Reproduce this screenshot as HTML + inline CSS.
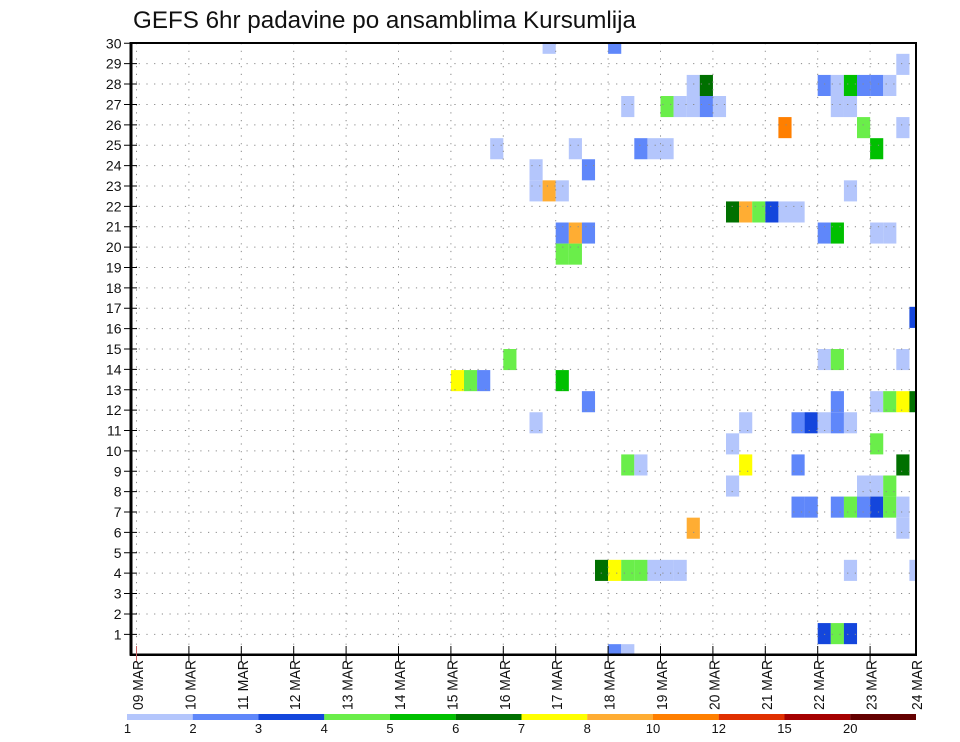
<!DOCTYPE html>
<html><head><meta charset="utf-8"><style>
html,body{margin:0;padding:0;background:#fff;}
svg{display:block;}
text{font-family:"Liberation Sans",sans-serif;fill:#111;}
</style></head><body>
<svg width="960" height="742" viewBox="0 0 960 742" xmlns="http://www.w3.org/2000/svg">
<defs><clipPath id="pc"><rect x="131" y="43" width="785" height="611.7"/></clipPath></defs>
<rect x="0" y="0" width="960" height="742" fill="#fff"/>
<text x="133" y="28" font-size="24" textLength="503" lengthAdjust="spacingAndGlyphs">GEFS 6hr padavine po ansamblima Kursumlija</text>

<g clip-path="url(#pc)">
<!-- i=29 -->
<rect x="542.6" y="32.75" width="13.15" height="21.08" fill="#b4c6fc"/>
<rect x="608.1" y="32.75" width="13.15" height="21.08" fill="#5f87fa"/>
<!-- i=28 -->
<rect x="896.3" y="53.83" width="13.15" height="21.08" fill="#b4c6fc"/>
<!-- i=27 -->
<rect x="686.7" y="74.92" width="13.15" height="21.08" fill="#b4c6fc"/>
<rect x="699.8" y="74.92" width="13.15" height="21.08" fill="#007000"/>
<rect x="817.7" y="74.92" width="13.15" height="21.08" fill="#5f87fa"/>
<rect x="830.8" y="74.92" width="13.15" height="21.08" fill="#b4c6fc"/>
<rect x="843.9" y="74.92" width="13.15" height="21.08" fill="#00c000"/>
<rect x="857.0" y="74.92" width="13.15" height="21.08" fill="#5f87fa"/>
<rect x="870.1" y="74.92" width="13.15" height="21.08" fill="#5f87fa"/>
<rect x="883.2" y="74.92" width="13.15" height="21.08" fill="#b4c6fc"/>
<!-- i=26 -->
<rect x="621.2" y="96.0" width="13.15" height="21.08" fill="#b4c6fc"/>
<rect x="660.5" y="96.0" width="13.15" height="21.08" fill="#6aee4a"/>
<rect x="673.6" y="96.0" width="13.15" height="21.08" fill="#b4c6fc"/>
<rect x="686.7" y="96.0" width="13.15" height="21.08" fill="#b4c6fc"/>
<rect x="699.8" y="96.0" width="13.15" height="21.08" fill="#5f87fa"/>
<rect x="712.9" y="96.0" width="13.15" height="21.08" fill="#b4c6fc"/>
<rect x="830.8" y="96.0" width="13.15" height="21.08" fill="#b4c6fc"/>
<rect x="843.9" y="96.0" width="13.15" height="21.08" fill="#b4c6fc"/>
<!-- i=25 -->
<rect x="778.4" y="117.08" width="13.15" height="21.08" fill="#ff7f00"/>
<rect x="857.0" y="117.08" width="13.15" height="21.08" fill="#6aee4a"/>
<rect x="896.3" y="117.08" width="13.15" height="21.08" fill="#b4c6fc"/>
<!-- i=24 -->
<rect x="490.2" y="138.17" width="13.15" height="21.08" fill="#b4c6fc"/>
<rect x="568.8" y="138.17" width="13.15" height="21.08" fill="#b4c6fc"/>
<rect x="634.3" y="138.17" width="13.15" height="21.08" fill="#5f87fa"/>
<rect x="647.4" y="138.17" width="13.15" height="21.08" fill="#b4c6fc"/>
<rect x="660.5" y="138.17" width="13.15" height="21.08" fill="#b4c6fc"/>
<rect x="870.1" y="138.17" width="13.15" height="21.08" fill="#00c000"/>
<!-- i=23 -->
<rect x="529.5" y="159.25" width="13.15" height="21.08" fill="#b4c6fc"/>
<rect x="581.9" y="159.25" width="13.15" height="21.08" fill="#5f87fa"/>
<!-- i=22 -->
<rect x="529.5" y="180.33" width="13.15" height="21.08" fill="#b4c6fc"/>
<rect x="542.6" y="180.33" width="13.15" height="21.08" fill="#ffad33"/>
<rect x="555.7" y="180.33" width="13.15" height="21.08" fill="#b4c6fc"/>
<rect x="843.9" y="180.33" width="13.15" height="21.08" fill="#b4c6fc"/>
<!-- i=21 -->
<rect x="726.0" y="201.42" width="13.15" height="21.08" fill="#007000"/>
<rect x="739.1" y="201.42" width="13.15" height="21.08" fill="#ffad33"/>
<rect x="752.2" y="201.42" width="13.15" height="21.08" fill="#6aee4a"/>
<rect x="765.3" y="201.42" width="13.15" height="21.08" fill="#1446dc"/>
<rect x="778.4" y="201.42" width="13.15" height="21.08" fill="#b4c6fc"/>
<rect x="791.5" y="201.42" width="13.15" height="21.08" fill="#b4c6fc"/>
<!-- i=20 -->
<rect x="555.7" y="222.5" width="13.15" height="21.08" fill="#5f87fa"/>
<rect x="568.8" y="222.5" width="13.15" height="21.08" fill="#ffad33"/>
<rect x="581.9" y="222.5" width="13.15" height="21.08" fill="#5f87fa"/>
<rect x="817.7" y="222.5" width="13.15" height="21.08" fill="#5f87fa"/>
<rect x="830.8" y="222.5" width="13.15" height="21.08" fill="#00c000"/>
<rect x="870.1" y="222.5" width="13.15" height="21.08" fill="#b4c6fc"/>
<rect x="883.2" y="222.5" width="13.15" height="21.08" fill="#b4c6fc"/>
<!-- i=19 -->
<rect x="555.7" y="243.58" width="13.15" height="21.08" fill="#6aee4a"/>
<rect x="568.8" y="243.58" width="13.15" height="21.08" fill="#6aee4a"/>
<!-- i=16 -->
<rect x="909.4" y="306.83" width="13.15" height="21.08" fill="#1446dc"/>
<!-- i=14 -->
<rect x="503.3" y="349.0" width="13.15" height="21.08" fill="#6aee4a"/>
<rect x="817.7" y="349.0" width="13.15" height="21.08" fill="#b4c6fc"/>
<rect x="830.8" y="349.0" width="13.15" height="21.08" fill="#6aee4a"/>
<rect x="896.3" y="349.0" width="13.15" height="21.08" fill="#b4c6fc"/>
<!-- i=13 -->
<rect x="450.9" y="370.08" width="13.15" height="21.08" fill="#ffff00"/>
<rect x="464.0" y="370.08" width="13.15" height="21.08" fill="#6aee4a"/>
<rect x="477.1" y="370.08" width="13.15" height="21.08" fill="#5f87fa"/>
<rect x="555.7" y="370.08" width="13.15" height="21.08" fill="#00c000"/>
<!-- i=12 -->
<rect x="581.9" y="391.16" width="13.15" height="21.08" fill="#5f87fa"/>
<rect x="830.8" y="391.16" width="13.15" height="21.08" fill="#5f87fa"/>
<rect x="870.1" y="391.16" width="13.15" height="21.08" fill="#b4c6fc"/>
<rect x="883.2" y="391.16" width="13.15" height="21.08" fill="#6aee4a"/>
<rect x="896.3" y="391.16" width="13.15" height="21.08" fill="#ffff00"/>
<rect x="909.4" y="391.16" width="13.15" height="21.08" fill="#007000"/>
<!-- i=11 -->
<rect x="529.5" y="412.25" width="13.15" height="21.08" fill="#b4c6fc"/>
<rect x="739.1" y="412.25" width="13.15" height="21.08" fill="#b4c6fc"/>
<rect x="791.5" y="412.25" width="13.15" height="21.08" fill="#5f87fa"/>
<rect x="804.6" y="412.25" width="13.15" height="21.08" fill="#1446dc"/>
<rect x="817.7" y="412.25" width="13.15" height="21.08" fill="#b4c6fc"/>
<rect x="830.8" y="412.25" width="13.15" height="21.08" fill="#5f87fa"/>
<rect x="843.9" y="412.25" width="13.15" height="21.08" fill="#b4c6fc"/>
<!-- i=10 -->
<rect x="726.0" y="433.33" width="13.15" height="21.08" fill="#b4c6fc"/>
<rect x="870.1" y="433.33" width="13.15" height="21.08" fill="#6aee4a"/>
<!-- i=9 -->
<rect x="621.2" y="454.41" width="13.15" height="21.08" fill="#6aee4a"/>
<rect x="634.3" y="454.41" width="13.15" height="21.08" fill="#b4c6fc"/>
<rect x="739.1" y="454.41" width="13.15" height="21.08" fill="#ffff00"/>
<rect x="791.5" y="454.41" width="13.15" height="21.08" fill="#5f87fa"/>
<rect x="896.3" y="454.41" width="13.15" height="21.08" fill="#007000"/>
<!-- i=8 -->
<rect x="726.0" y="475.5" width="13.15" height="21.08" fill="#b4c6fc"/>
<rect x="857.0" y="475.5" width="13.15" height="21.08" fill="#b4c6fc"/>
<rect x="870.1" y="475.5" width="13.15" height="21.08" fill="#b4c6fc"/>
<rect x="883.2" y="475.5" width="13.15" height="21.08" fill="#6aee4a"/>
<!-- i=7 -->
<rect x="791.5" y="496.58" width="13.15" height="21.08" fill="#5f87fa"/>
<rect x="804.6" y="496.58" width="13.15" height="21.08" fill="#5f87fa"/>
<rect x="830.8" y="496.58" width="13.15" height="21.08" fill="#5f87fa"/>
<rect x="843.9" y="496.58" width="13.15" height="21.08" fill="#6aee4a"/>
<rect x="857.0" y="496.58" width="13.15" height="21.08" fill="#5f87fa"/>
<rect x="870.1" y="496.58" width="13.15" height="21.08" fill="#1446dc"/>
<rect x="883.2" y="496.58" width="13.15" height="21.08" fill="#6aee4a"/>
<rect x="896.3" y="496.58" width="13.15" height="21.08" fill="#b4c6fc"/>
<!-- i=6 -->
<rect x="686.7" y="517.66" width="13.15" height="21.08" fill="#ffad33"/>
<rect x="896.3" y="517.66" width="13.15" height="21.08" fill="#b4c6fc"/>
<!-- i=4 -->
<rect x="595.0" y="559.83" width="13.15" height="21.08" fill="#007000"/>
<rect x="608.1" y="559.83" width="13.15" height="21.08" fill="#ffff00"/>
<rect x="621.2" y="559.83" width="13.15" height="21.08" fill="#6aee4a"/>
<rect x="634.3" y="559.83" width="13.15" height="21.08" fill="#6aee4a"/>
<rect x="647.4" y="559.83" width="13.15" height="21.08" fill="#b4c6fc"/>
<rect x="660.5" y="559.83" width="13.15" height="21.08" fill="#b4c6fc"/>
<rect x="673.6" y="559.83" width="13.15" height="21.08" fill="#b4c6fc"/>
<rect x="843.9" y="559.83" width="13.15" height="21.08" fill="#b4c6fc"/>
<rect x="909.4" y="559.83" width="13.15" height="21.08" fill="#b4c6fc"/>
<!-- i=1 -->
<rect x="817.7" y="623.08" width="13.15" height="21.08" fill="#1446dc"/>
<rect x="830.8" y="623.08" width="13.15" height="21.08" fill="#6aee4a"/>
<rect x="843.9" y="623.08" width="13.15" height="21.08" fill="#1446dc"/>
<!-- i=0 -->
<rect x="608.1" y="644.16" width="13.15" height="21.08" fill="#5f87fa"/>
<rect x="621.2" y="644.16" width="13.15" height="21.08" fill="#b4c6fc"/>
</g>

<!-- grid -->
<g stroke="#8a8a8a" stroke-width="1" stroke-dasharray="1.2 6.5" fill="none">
<path d="M131 634.32H916M131 613.94H916M131 593.56H916M131 573.18H916M131 552.8H916M131 532.42H916M131 512.04H916M131 491.66H916M131 471.28H916M131 450.9H916M131 430.52H916M131 410.14H916M131 389.76H916M131 369.38H916M131 349H916M131 328.62H916M131 308.24H916M131 287.86H916M131 267.48H916M131 247.1H916M131 226.72H916M131 206.34H916M131 185.96H916M131 165.58H916M131 145.2H916M131 124.82H916M131 104.44H916M131 84.06H916M131 63.68H916"/>
<path d="M136.5 43V654M188.9 43V654M241.3 43V654M293.7 43V654M346.1 43V654M398.5 43V654M450.9 43V654M503.3 43V654M555.7 43V654M608.1 43V654M660.5 43V654M712.9 43V654M765.3 43V654M817.7 43V654M870.1 43V654"/>
</g>

<!-- frame -->
<rect x="131" y="43" width="785" height="611.7" fill="none" stroke="#000" stroke-width="2"/>
<line x1="131" y1="42" x2="131" y2="655.7" stroke="#000" stroke-width="3"/>
<line x1="130" y1="654.7" x2="917" y2="654.7" stroke="#000" stroke-width="2.5"/>

<!-- y ticks -->
<g stroke="#000" stroke-width="1">
<path d="M124 634.32H137M124 613.94H137M124 593.56H137M124 573.18H137M124 552.8H137M124 532.42H137M124 512.04H137M124 491.66H137M124 471.28H137M124 450.9H137M124 430.52H137M124 410.14H137M124 389.76H137M124 369.38H137M124 349H137M124 328.62H137M124 308.24H137M124 287.86H137M124 267.48H137M124 247.1H137M124 226.72H137M124 206.34H137M124 185.96H137M124 165.58H137M124 145.2H137M124 124.82H137M124 104.44H137M124 84.06H137M124 63.68H137M124 43.3H137"/>
</g>
<g font-size="14" text-anchor="end">
<text x="121.5" y="639.3">1</text>
<text x="121.5" y="618.9">2</text>
<text x="121.5" y="598.6">3</text>
<text x="121.5" y="578.2">4</text>
<text x="121.5" y="557.8">5</text>
<text x="121.5" y="537.4">6</text>
<text x="121.5" y="517.0">7</text>
<text x="121.5" y="496.7">8</text>
<text x="121.5" y="476.3">9</text>
<text x="121.5" y="455.9">10</text>
<text x="121.5" y="435.5">11</text>
<text x="121.5" y="415.1">12</text>
<text x="121.5" y="394.8">13</text>
<text x="121.5" y="374.4">14</text>
<text x="121.5" y="354.0">15</text>
<text x="121.5" y="333.6">16</text>
<text x="121.5" y="313.2">17</text>
<text x="121.5" y="292.9">18</text>
<text x="121.5" y="272.5">19</text>
<text x="121.5" y="252.1">20</text>
<text x="121.5" y="231.7">21</text>
<text x="121.5" y="211.3">22</text>
<text x="121.5" y="191.0">23</text>
<text x="121.5" y="170.6">24</text>
<text x="121.5" y="150.2">25</text>
<text x="121.5" y="129.8">26</text>
<text x="121.5" y="109.4">27</text>
<text x="121.5" y="89.1">28</text>
<text x="121.5" y="68.7">29</text>
<text x="121.5" y="48.3">30</text>
</g>

<!-- x ticks -->
<g stroke="#000" stroke-width="1">
<path d="M188.9 646V662M241.3 646V662M293.7 646V662M346.1 646V662M398.5 646V662M450.9 646V662M503.3 646V662M555.7 646V662M608.1 646V662M660.5 646V662M712.9 646V662M765.3 646V662M817.7 646V662M870.1 646V662"/>
</g>
<line x1="136.5" y1="646" x2="136.5" y2="662" stroke="#c86060" stroke-width="1"/>
<g font-size="15">
<text transform="translate(143,710) rotate(-90)" textLength="50" lengthAdjust="spacingAndGlyphs">09 MAR</text>
<text transform="translate(195.4,710) rotate(-90)" textLength="50" lengthAdjust="spacingAndGlyphs">10 MAR</text>
<text transform="translate(247.8,710) rotate(-90)" textLength="50" lengthAdjust="spacingAndGlyphs">11 MAR</text>
<text transform="translate(300.2,710) rotate(-90)" textLength="50" lengthAdjust="spacingAndGlyphs">12 MAR</text>
<text transform="translate(352.6,710) rotate(-90)" textLength="50" lengthAdjust="spacingAndGlyphs">13 MAR</text>
<text transform="translate(405,710) rotate(-90)" textLength="50" lengthAdjust="spacingAndGlyphs">14 MAR</text>
<text transform="translate(457.4,710) rotate(-90)" textLength="50" lengthAdjust="spacingAndGlyphs">15 MAR</text>
<text transform="translate(509.8,710) rotate(-90)" textLength="50" lengthAdjust="spacingAndGlyphs">16 MAR</text>
<text transform="translate(562.2,710) rotate(-90)" textLength="50" lengthAdjust="spacingAndGlyphs">17 MAR</text>
<text transform="translate(614.6,710) rotate(-90)" textLength="50" lengthAdjust="spacingAndGlyphs">18 MAR</text>
<text transform="translate(667,710) rotate(-90)" textLength="50" lengthAdjust="spacingAndGlyphs">19 MAR</text>
<text transform="translate(719.4,710) rotate(-90)" textLength="50" lengthAdjust="spacingAndGlyphs">20 MAR</text>
<text transform="translate(771.8,710) rotate(-90)" textLength="50" lengthAdjust="spacingAndGlyphs">21 MAR</text>
<text transform="translate(824.2,710) rotate(-90)" textLength="50" lengthAdjust="spacingAndGlyphs">22 MAR</text>
<text transform="translate(876.6,710) rotate(-90)" textLength="50" lengthAdjust="spacingAndGlyphs">23 MAR</text>
<text transform="translate(922,710) rotate(-90)" textLength="50" lengthAdjust="spacingAndGlyphs">24 MAR</text>
</g>

<!-- colorbar -->
<g>
<rect x="127" y="714" width="65.85" height="6" fill="#b4c6fc"/>
<rect x="192.75" y="714" width="65.85" height="6" fill="#5f87fa"/>
<rect x="258.5" y="714" width="65.85" height="6" fill="#1446dc"/>
<rect x="324.25" y="714" width="65.85" height="6" fill="#6aee4a"/>
<rect x="390" y="714" width="65.85" height="6" fill="#00c000"/>
<rect x="455.75" y="714" width="65.85" height="6" fill="#007000"/>
<rect x="521.5" y="714" width="65.85" height="6" fill="#ffff00"/>
<rect x="587.25" y="714" width="65.85" height="6" fill="#ffad33"/>
<rect x="653" y="714" width="65.85" height="6" fill="#ff7f00"/>
<rect x="718.75" y="714" width="65.85" height="6" fill="#e03000"/>
<rect x="784.5" y="714" width="65.85" height="6" fill="#a50000"/>
<rect x="850.25" y="714" width="65.75" height="6" fill="#640000"/>
</g>
<g font-size="13" text-anchor="middle">
<text x="127.5" y="733">1</text>
<text x="193" y="733">2</text>
<text x="258.5" y="733">3</text>
<text x="324.25" y="733">4</text>
<text x="390" y="733">5</text>
<text x="455.75" y="733">6</text>
<text x="521.5" y="733">7</text>
<text x="587.25" y="733">8</text>
<text x="653" y="733">10</text>
<text x="718.75" y="733">12</text>
<text x="784.5" y="733">15</text>
<text x="850.25" y="733">20</text>
</g>
</svg>
</body></html>
